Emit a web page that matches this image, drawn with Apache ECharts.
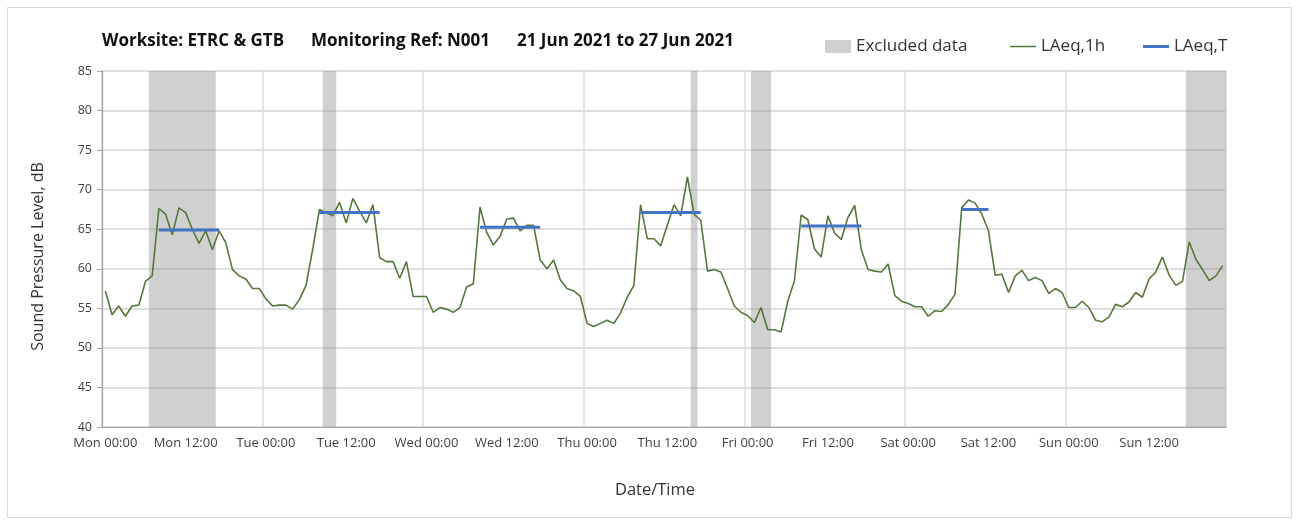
<!DOCTYPE html>
<html>
<head>
<meta charset="utf-8">
<script src="https://cdn.jsdelivr.net/npm/echarts@6/dist/echarts.min.js"></script>
<style>
html,body{margin:0;padding:0;background:#fff;}
#chart{width:1301px;height:526px;}
</style>
</head>
<body>
<div id="chart"></div>
<script>
// ---- data ----
const days = ['Mon','Tue','Wed','Thu','Fri','Sat','Sun'];
const hours = ['00:00','01:00','02:00','03:00','04:00','05:00','06:00','07:00','08:00','09:00','10:00','11:00',
               '12:00','13:00','14:00','15:00','16:00','17:00','18:00','19:00','20:00','21:00','22:00','23:00'];
// hourly LAeq,1h values (dB), Mon 00:00 .. Sun 23:00
const laeq1h = [
  57.2,54.2,55.3,54.0,55.3,55.4,58.4,59.1,67.6,66.9,64.3,67.7,67.1,65.0,63.2,64.8,62.4,64.8,63.3,59.9,59.1,58.7,57.5,57.5,
  56.2,55.3,55.4,55.4,54.9,56.1,57.9,62.5,67.5,67.1,66.7,68.4,65.8,68.9,67.3,65.8,68.1,61.4,60.9,60.9,58.8,60.9,56.5,56.5,
  56.5,54.5,55.1,54.9,54.5,55.1,57.7,58.1,67.8,64.6,63.0,64.1,66.3,66.4,64.8,65.5,65.5,61.1,60.0,61.1,58.6,57.5,57.2,56.5,
  53.1,52.7,53.1,53.5,53.1,54.4,56.4,57.9,68.1,63.8,63.8,62.9,65.5,68.1,66.7,71.6,66.9,66.1,59.7,59.9,59.6,57.5,55.3,54.5,
  54.1,53.2,55.1,52.3,52.3,52.0,55.9,58.5,66.8,66.2,62.5,61.5,66.7,64.5,63.7,66.5,68.0,62.4,59.9,59.7,59.6,60.6,56.6,55.9,
  55.6,55.2,55.2,54.0,54.7,54.6,55.5,56.8,67.7,68.7,68.3,66.9,64.8,59.2,59.3,57.0,59.1,59.8,58.5,58.9,58.5,56.9,57.5,57.0,
  55.1,55.1,55.9,55.1,53.5,53.3,53.9,55.5,55.2,55.8,57.0,56.4,58.7,59.6,61.5,59.2,57.9,58.4,63.4,61.2,59.9,58.5,59.1,60.4
];
// LAeq,T daytime periods: [start hour index, end hour index, value]
const laeqTPeriods = [
  [8, 17, 64.9],
  [32, 41, 67.1],
  [56, 65, 65.25],
  [80, 89, 67.1],
  [104, 113, 65.4],
  [128, 132, 67.5]
];
// excluded hour indices
const excludedHours = [7,8,9,10,11,12,13,14,15,16, 33,34, 88, 97,98,99, 162,163,164,165,166,167];
const yTicks = {min: 40, max: 85, interval: 5};
const titleParts = ['Worksite: ETRC & GTB', 'Monitoring Ref: N001', '21 Jun 2021 to 27 Jun 2021'];

// ---- build ----
const categories = [];
days.forEach(d => hours.forEach(h => categories.push(d + ' ' + h)));
const laeqT = categories.map(() => '-');
laeqTPeriods.forEach(([s, e, v]) => { for (let i = s; i <= e; i++) laeqT[i] = v; });
// group excluded hours into contiguous runs [start, end]
const excludedRuns = [];
excludedHours.forEach(h => {
  const last = excludedRuns[excludedRuns.length - 1];
  if (last && h === last[1] + 1) last[1] = h; else excludedRuns.push([h, h]);
});

const FONT = '"Open Sans", Lato, sans-serif';
const GREEN = '#56773b', BLUE = '#4472c4', GREY = 'rgba(150,150,150,0.45)';
// thin line icons (invisible corner dots fix the 26x12 bounding box)
const lineIcon = (h) => 'path://M0,0h0.01v0.01h-0.01z M0,' + (6 - h / 2) + 'h26v' + h + 'h-26z M25.99,11.99h0.01v0.01h-0.01z';

const legendBase = {
  top: 33, itemWidth: 26, itemHeight: 12, itemGap: 5,
  textStyle: {fontFamily: FONT, fontSize: 17, color: '#333'}
};
const titleStyle = {fontFamily: FONT, fontSize: 17, fontWeight: 'bold', color: '#111'};

const chart = echarts.init(document.getElementById('chart'));
chart.setOption({
  animation: false,
  backgroundColor: '#fff',
  textStyle: {fontFamily: FONT},
  graphic: [{
    type: 'rect', shape: {x: 7.5, y: 7.5, width: 1284, height: 510},
    style: {fill: 'none', stroke: '#d9d9d9', lineWidth: 1}, silent: true
  }],
  title: [
    {text: titleParts[0], left: 97, top: 28, textStyle: titleStyle},
    {text: titleParts[1], left: 306, top: 28, textStyle: titleStyle},
    {text: titleParts[2], left: 512, top: 28, textStyle: titleStyle}
  ],
  legend: [
    Object.assign({}, legendBase, {left: 820, data: [{name: 'Excluded data', icon: 'rect'}], itemHeight: 13}),
    Object.assign({}, legendBase, {left: 1005, data: [{name: 'LAeq,1h', icon: lineIcon(1.7)}]}),
    Object.assign({}, legendBase, {left: 1138, data: [{name: 'LAeq,T', icon: lineIcon(3)}]})
  ],
  grid: {left: 102, right: 75, top: 71, bottom: 99},
  xAxis: {
    type: 'category',
    data: categories,
    boundaryGap: true,
    name: 'Date/Time', nameLocation: 'middle', nameGap: 55,
    nameTextStyle: {fontFamily: FONT, fontSize: 16.5, color: '#333', padding: [0, 18, 0, 0]},
    axisLine: {lineStyle: {color: '#a6a6a6', width: 1.2}},
    axisTick: {interval: 11, length: 5, lineStyle: {color: '#a6a6a6'}},
    axisLabel: {interval: 11, fontFamily: FONT, fontSize: 13, color: '#404040', margin: 10},
    splitLine: {show: true, interval: 23, lineStyle: {color: '#dcdcdc', width: 1.5}}
  },
  yAxis: {
    type: 'value',
    min: yTicks.min, max: yTicks.max, interval: yTicks.interval,
    name: 'Sound Pressure Level, dB', nameLocation: 'middle', nameGap: 56,
    nameTextStyle: {fontFamily: FONT, fontSize: 16, color: '#333', padding: [0, 15, 0, 0]},
    axisLine: {show: true, lineStyle: {color: '#a0a0a0', width: 1.2}},
    axisTick: {show: true, length: 5, lineStyle: {color: '#a6a6a6'}},
    axisLabel: {fontFamily: FONT, fontSize: 12.5, color: '#404040', margin: 10},
    splitLine: {lineStyle: {color: '#d4d4d4', width: 1.5}}
  },
  series: [
    {
      name: 'Excluded data', type: 'custom', data: excludedRuns,
      encode: {x: [0, 1]},
      itemStyle: {color: GREY},
      z: 3, silent: true, clip: true,
      renderItem: function (params, api) {
        const s = api.value(0), e = api.value(1);
        const bw = api.size([1, 0])[0];
        const top = api.coord([s, yTicks.max]);
        const bottomEnd = api.coord([e, yTicks.min]);
        return {
          type: 'rect',
          shape: {x: top[0] - bw / 2, y: top[1], width: bottomEnd[0] - top[0] + bw, height: bottomEnd[1] - top[1]},
          style: {fill: GREY}
        };
      }
    },
    {
      name: 'LAeq,1h', type: 'line', data: laeq1h,
      symbol: 'none', lineStyle: {color: GREEN, width: 1.6},
      itemStyle: {color: GREEN}, z: 4
    },
    {
      name: 'LAeq,T', type: 'line', data: laeqT,
      symbol: 'none', connectNulls: false,
      lineStyle: {color: BLUE, width: 3},
      itemStyle: {color: BLUE}, z: 5
    }
  ]
});
</script>
</body>
</html>
